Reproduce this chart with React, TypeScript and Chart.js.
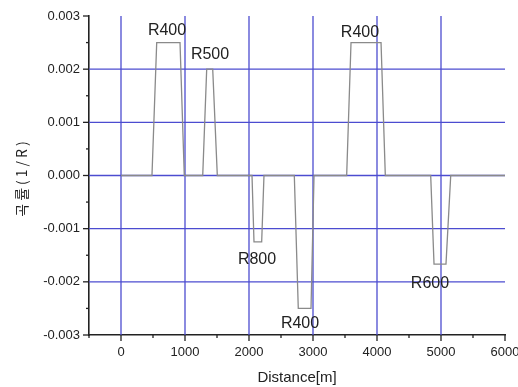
import React, { useEffect, useRef } from 'react';
import { Chart, registerables } from 'chart.js';
Chart.register(...registerables);

// Curvature profile (distance in m, curvature in 1/R)
const distance = [0, 484, 558, 922, 989, 1277, 1339, 1433, 1505, 2047, 2078, 2198, 2234, 2708, 2770, 2969, 3016, 3526, 3594, 4063, 4130, 4839, 4891, 5078, 5152, 6000];
const curvature = [0, 0, 0.0025, 0.0025, 0, 0, 0.002, 0.002, 0, 0, -0.00125, -0.00125, 0, 0, -0.0025, -0.0025, 0, 0, 0.0025, 0.0025, 0, 0, -0.001667, -0.001667, 0, 0];

// Curve radius labels
const curveNames = ['R400', 'R500', 'R800', 'R400', 'R400', 'R600'];
const nameX = [719, 1391, 2125, 2797, 3734, 4828];
const nameY = [0.00272, 0.00228, -0.00158, -0.00279, 0.00268, -0.00204];

// Tick labels
const xTickLabels = ['0', '1000', '2000', '3000', '4000', '5000', '6000'];
const yTickLabels = ['-0.003', '-0.002', '-0.001', '0.000', '0.001', '0.002', '0.003'];

const xTitle = 'Distance[m]';
const yTitle = '곡률(1/R)';

const xMajor = (v: number) => xTickLabels.some((l) => Math.abs(Number(l) - v) < 1e-6);
const yMajor = (v: number) => yTickLabels.some((l) => Math.abs(Number(l) - v) < 1e-9);
const xLabel = (v: number) => xTickLabels.find((l) => Math.abs(Number(l) - v) < 1e-6) ?? '';
const yLabel = (v: number) => yTickLabels.find((l) => Math.abs(Number(l) - v) < 1e-9) ?? '';

const GRID = '#4c4cd0';
const INK = '#222222';

const gridLines = {
  id: 'gridLines',
  beforeDatasetsDraw(chart: any) {
    const { ctx, chartArea, scales } = chart;
    ctx.save();
    ctx.strokeStyle = GRID;
    ctx.lineWidth = 1.3;
    scales.x.ticks.forEach((t: any) => {
      if (!xMajor(t.value) || t.value >= 6000) return;
      const px = scales.x.getPixelForValue(t.value);
      ctx.beginPath();
      ctx.moveTo(px, chartArea.top);
      ctx.lineTo(px, chartArea.bottom);
      ctx.stroke();
    });
    scales.y.ticks.forEach((t: any) => {
      if (!yMajor(t.value) || Math.abs(t.value) > 0.0029) return;
      const py = scales.y.getPixelForValue(t.value);
      ctx.beginPath();
      ctx.moveTo(chartArea.left, py);
      ctx.lineTo(chartArea.right, py);
      ctx.stroke();
    });
    ctx.restore();
  },
};

const tickMarks = {
  id: 'tickMarks',
  afterDraw(chart: any) {
    const { ctx, chartArea, scales } = chart;
    ctx.save();
    ctx.strokeStyle = INK;
    ctx.lineWidth = 1.3;
    scales.x.ticks.forEach((t: any) => {
      const px = scales.x.getPixelForValue(t.value);
      const len = xMajor(t.value) ? 6 : 3;
      ctx.beginPath();
      ctx.moveTo(px, chartArea.bottom);
      ctx.lineTo(px, chartArea.bottom + len);
      ctx.stroke();
    });
    scales.y.ticks.forEach((t: any) => {
      const py = scales.y.getPixelForValue(t.value);
      const len = yMajor(t.value) ? 6 : 3;
      ctx.beginPath();
      ctx.moveTo(chartArea.left, py);
      ctx.lineTo(chartArea.left - len, py);
      ctx.stroke();
    });
    // y-axis title
    ctx.fillStyle = INK;
    ctx.font = '14px "Noto Sans CJK KR", sans-serif';
    (ctx as any).letterSpacing = '3px';
    ctx.textAlign = 'center';
    ctx.textBaseline = 'middle';
    ctx.translate(22, (chartArea.top + chartArea.bottom) / 2 + 2);
    ctx.rotate(-Math.PI / 2);
    ctx.fillText(yTitle, 0, 0);
    ctx.restore();
  },
};

const curveLabels = {
  id: 'curveLabels',
  afterDatasetsDraw(chart: any) {
    const { ctx, scales } = chart;
    ctx.save();
    ctx.fillStyle = INK;
    ctx.font = '16px "Liberation Sans", Arial, sans-serif';
    ctx.textAlign = 'center';
    ctx.textBaseline = 'middle';
    curveNames.forEach((n, i) => {
      ctx.fillText(n, scales.x.getPixelForValue(nameX[i]), scales.y.getPixelForValue(nameY[i]));
    });
    ctx.restore();
  },
};

export default function App() {
  const ref = useRef<HTMLCanvasElement>(null);
  useEffect(() => {
    if (!ref.current) return;
    const chart = new Chart(ref.current, {
      type: 'line',
      data: {
        datasets: [
          {
            data: distance.map((d, i) => ({ x: d, y: curvature[i] })),
            borderColor: '#8a8a8a',
            borderWidth: 1.3,
            pointRadius: 0,
            tension: 0,
            fill: false,
          },
        ],
      },
      options: {
        animation: false,
        responsive: false,
        maintainAspectRatio: false,
        layout: { padding: { left: 0, top: 16, right: 13, bottom: 0 } },
        plugins: { legend: { display: false }, tooltip: { enabled: false } },
        scales: {
          x: {
            type: 'linear',
            min: -500,
            max: 6000,
            afterFit: (s: any) => {
              s.height = 52;
              s.paddingLeft = 0;
              s.paddingRight = 0;
            },
            ticks: {
              stepSize: 500,
              autoSkip: false,
              maxRotation: 0,
              padding: 10,
              color: INK,
              font: { family: '"Liberation Sans", Arial, sans-serif', size: 13 },
              callback: (v: any) => xLabel(Number(v)),
            },
            grid: { display: false, drawTicks: false },
            border: { display: true, color: INK, width: 1.6 },
            title: {
              display: true,
              text: xTitle,
              color: INK,
              font: { family: '"Liberation Sans", Arial, sans-serif', size: 15 },
              padding: { top: 0, bottom: 0 },
            },
          },
          y: {
            type: 'linear',
            min: -0.003,
            max: 0.003,
            afterFit: (s: any) => {
              s.width = 89;
              s.paddingTop = 0;
              s.paddingBottom = 0;
            },
            ticks: {
              stepSize: 0.0005,
              autoSkip: false,
              padding: 9,
              color: INK,
              font: { family: '"Liberation Sans", Arial, sans-serif', size: 13 },
              callback: (v: any) => yLabel(Number(v)),
            },
            grid: { display: false, drawTicks: false },
            border: { display: true, color: INK, width: 1.6 },
          },
        },
      },
      plugins: [gridLines, tickMarks, curveLabels],
    });
    return () => chart.destroy();
  }, []);
  return (
    <div style={{ position: 'fixed', left: 0, top: 0, width: 518, height: 387, background: '#fff' }}>
      <canvas ref={ref} width={518} height={387} style={{ width: 518, height: 387 }} />
    </div>
  );
}
